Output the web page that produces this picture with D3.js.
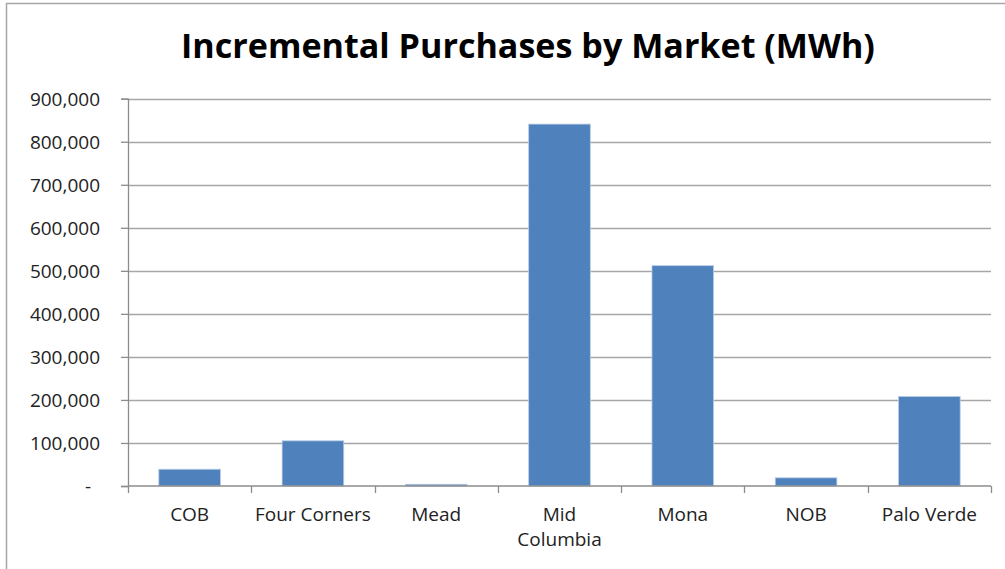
<!DOCTYPE html>
<html>
<head>
<meta charset="utf-8">
<script src="https://cdn.jsdelivr.net/npm/d3@7"></script>
<style>
  html, body { margin: 0; padding: 0; background: #fff; }
  svg { display: block; }
</style>
</head>
<body>
<svg id="chart" width="1005" height="569"></svg>
<script>
const markets = ["COB", "Four Corners", "Mead", "Mid Columbia", "Mona", "NOB", "Palo Verde"];
const purchases = [39000, 105000, 4000, 841000, 512000, 19000, 208000];
const yTicks = [0, 100000, 200000, 300000, 400000, 500000, 600000, 700000, 800000, 900000];
const title = "Incremental Purchases by Market (MWh)";

const width = 1005;
const height = 569;
const margin = { top: 98.7, right: 14, bottom: 83, left: 128 };
const font = "'Open Sans', 'Liberation Sans', sans-serif";
const gray = "#8c8c8c";

const svg = d3.select("#chart");

// outer chart border
svg.append("rect")
  .attr("x", 6.5).attr("y", 3.5)
  .attr("width", width + 10).attr("height", height + 10)
  .attr("fill", "none").attr("stroke", "#a6a6a6").attr("stroke-width", 1.5);

const x = d3.scaleBand()
  .domain(markets)
  .range([margin.left, width - margin.right])
  .paddingInner(0.5)
  .paddingOuter(0.25);

const y = d3.scaleLinear()
  .domain([0, 900000])
  .range([height - margin.bottom, margin.top]);

// gridlines
svg.append("g")
  .selectAll("line")
  .data(yTicks.slice(1))
  .join("line")
  .attr("x1", margin.left)
  .attr("x2", width - margin.right)
  .attr("y1", (d) => Math.round(y(d)) + 0.5)
  .attr("y2", (d) => Math.round(y(d)) + 0.5)
  .attr("stroke", "#a6a6a6")
  .attr("stroke-width", 1.3);

// bars
svg.append("g")
  .selectAll("rect")
  .data(markets)
  .join("rect")
  .attr("x", (d) => x(d))
  .attr("width", x.bandwidth())
  .attr("y", (d, i) => y(purchases[i]))
  .attr("height", (d, i) => y(0) - y(purchases[i]))
  .attr("fill", "#4f81bd")
  .attr("stroke", "#b9cde5")
  .attr("stroke-width", 0.8);

// y axis
const yAxis = svg.append("g")
  .attr("transform", `translate(${margin.left},0)`)
  .call(
    d3.axisLeft(y)
      .tickValues(yTicks)
      .tickSize(7)
      .tickPadding(21)
      .tickFormat((d) => (d === 0 ? "-" : d3.format(",")(d)))
  );
yAxis.select(".domain").attr("stroke", gray).attr("stroke-width", 1.3);
yAxis.selectAll(".tick line").attr("stroke", gray).attr("stroke-width", 1.3);
yAxis.selectAll(".tick text")
  .attr("font-family", font)
  .attr("font-size", 19)
  .attr("fill", "#222")
  .attr("dy", "0.36em")
  .attr("dx", (d) => (d === 0 ? -9 : 0));

// x axis: baseline and ticks at band edges
const xAxisG = svg.append("g").attr("transform", `translate(0,${y(0)})`);
xAxisG.append("line")
  .attr("x1", margin.left).attr("x2", width - margin.right)
  .attr("stroke", gray).attr("stroke-width", 1.3);
const edges = markets.map((d) => x(d) - x.bandwidth() / 2).concat([width - margin.right]);
xAxisG.selectAll("line.tick")
  .data(edges)
  .join("line")
  .attr("class", "tick")
  .attr("x1", (d) => Math.round(d) + 0.5)
  .attr("x2", (d) => Math.round(d) + 0.5)
  .attr("y1", 0).attr("y2", 7)
  .attr("stroke", gray).attr("stroke-width", 1.3);

// category labels (wrap long names)
const labelLines = { "Mid Columbia": ["Mid", "Columbia"] };
svg.append("g")
  .selectAll("text")
  .data(markets)
  .join("text")
  .attr("x", (d) => x(d) + x.bandwidth() / 2)
  .attr("y", 521)
  .attr("text-anchor", "middle")
  .attr("font-family", font)
  .attr("font-size", 19)
  .attr("fill", "#222")
  .each(function (d) {
    const lines = labelLines[d] || [d];
    const t = d3.select(this);
    lines.forEach((line, i) => {
      t.append("tspan")
        .attr("x", x(d) + x.bandwidth() / 2)
        .attr("dy", i === 0 ? 0 : 25)
        .text(line);
    });
  });

// title
const titleText = svg.append("text")
  .attr("x", 528)
  .attr("y", 58)
  .attr("text-anchor", "middle")
  .attr("font-family", font)
  .attr("font-weight", 700)
  .attr("font-size", 36)
  .attr("fill", "#000")
  .text(title);
const tw = titleText.node().getComputedTextLength();
titleText.attr("font-size", 36 * 694 / tw);
</script>
</body>
</html>
